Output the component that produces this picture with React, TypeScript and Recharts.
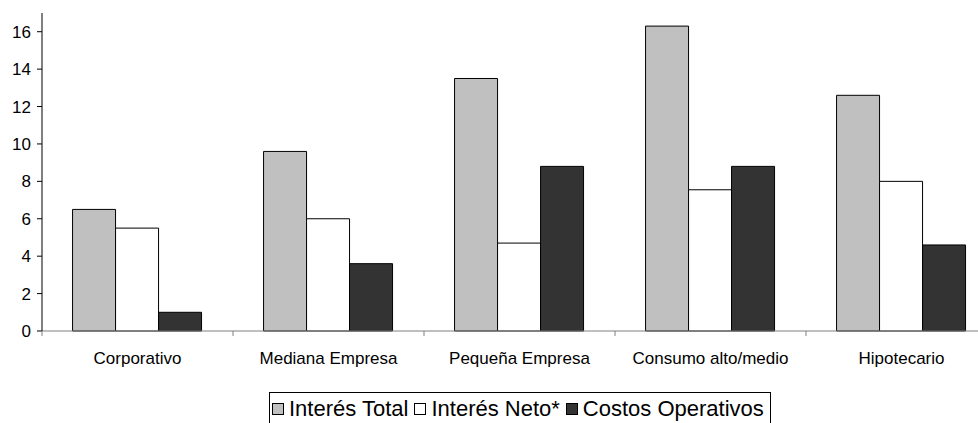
import React from 'react';
import { BarChart, Bar, XAxis, YAxis, Legend } from 'recharts';

const categories = ['Corporativo', 'Mediana Empresa', 'Pequeña Empresa', 'Consumo alto/medio', 'Hipotecario'];
const interesTotal = [6.5, 9.6, 13.5, 16.3, 12.6];
const interesNeto = [5.5, 6.0, 4.7, 7.55, 8.0];
const costosOperativos = [1.0, 3.6, 8.8, 8.8, 4.6];
const yTicks = [0, 2, 4, 6, 8, 10, 12, 14, 16];

const seriesNames = ['Interés Total', 'Interés Neto*', 'Costos Operativos'];
const seriesColors = ['#C0C0C0', '#FFFFFF', '#333333'];

const data = categories.map((c, i) => ({
  name: c,
  total: interesTotal[i],
  neto: interesNeto[i],
  costos: costosOperativos[i],
}));

const FONT = '"Liberation Sans", Arial, sans-serif';
const AXIS_FONT = 17;
const X_TICK_SIZE = 5;
const X_TICK_MARGIN = 16;

const CategoryTick = (props: any) => {
  const { x, y, payload } = props;
  const half = payload && typeof payload.offset === 'number' ? payload.offset : 0;
  const axisY = y - X_TICK_SIZE - X_TICK_MARGIN;
  return (
    <g>
      {half > 0 && (
        <line x1={x - half} x2={x - half} y1={axisY} y2={axisY + X_TICK_SIZE} stroke="#808080" strokeWidth={1} />
      )}
      <text x={x} y={y} dy="0.71em" textAnchor="middle" fontSize={AXIS_FONT} fontFamily={FONT} fill="#000">
        {payload.value}
      </text>
    </g>
  );
};

const LegendContent = () => (
  <div
    style={{
      border: '1px solid #000',
      background: '#fff',
      display: 'flex',
      alignItems: 'center',
      padding: '4px 6px 14px 2px',
      fontFamily: FONT,
      fontSize: 22,
      color: '#000',
      whiteSpace: 'nowrap',
      lineHeight: '24px',
    }}
  >
    {seriesNames.map((n, i) => (
      <span key={n} style={{ display: 'flex', alignItems: 'center', marginRight: i < 2 ? 6 : 0 }}>
        <span
          style={{
            display: 'inline-block',
            width: 10,
            height: 10,
            border: '1px solid #000',
            background: seriesColors[i],
            marginRight: 5,
          }}
        />
        {n}
      </span>
    ))}
  </div>
);

export default function App() {
  return (
    <div style={{ position: 'absolute', left: 0, top: 0, width: 978, height: 423, overflow: 'hidden', background: '#fff' }}>
      <BarChart
        width={1000}
        height={423}
        data={data}
        margin={{ top: 13, right: 3, left: 0, bottom: 0 }}
        barCategoryGap="16%"
        barGap={0}
      >
        <XAxis
          dataKey="name"
          height={92}
          stroke="#808080"
          tickLine={false}
          tickSize={X_TICK_SIZE}
          tickMargin={X_TICK_MARGIN}
          tick={<CategoryTick />}
          interval={0}
        />
        <YAxis
          width={42}
          domain={[0, 17]}
          ticks={yTicks}
          interval={0}
          stroke="#000"
          tickSize={5}
          tickMargin={6}
          tick={{ fill: '#000', fontSize: AXIS_FONT, fontFamily: FONT }}
        />
        <Legend
          verticalAlign="middle"
          align="center"
          layout="horizontal"
          content={<LegendContent />}
          wrapperStyle={{ top: 392, left: 269, width: 'auto' }}
        />
        <Bar dataKey="total" name={seriesNames[0]} fill={seriesColors[0]} stroke="#000" strokeWidth={1} isAnimationActive={false} />
        <Bar dataKey="neto" name={seriesNames[1]} fill={seriesColors[1]} stroke="#000" strokeWidth={1} isAnimationActive={false} />
        <Bar dataKey="costos" name={seriesNames[2]} fill={seriesColors[2]} stroke="#000" strokeWidth={1} isAnimationActive={false} />
      </BarChart>
    </div>
  );
}
